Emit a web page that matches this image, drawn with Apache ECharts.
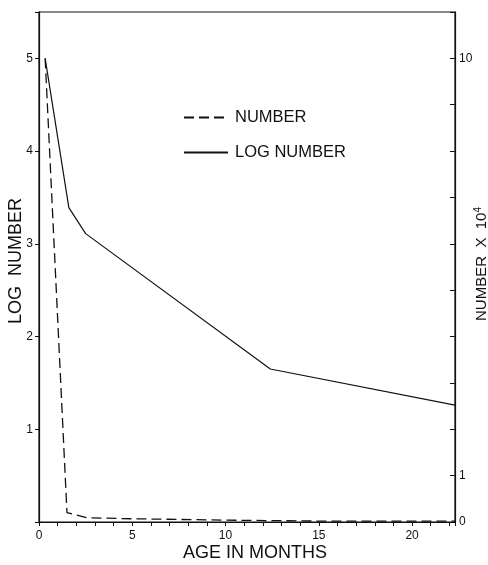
<!DOCTYPE html>
<html>
<head>
<meta charset="utf-8">
<script src="https://cdn.jsdelivr.net/npm/echarts@6/dist/echarts.min.js"></script>
<style>
html,body{margin:0;padding:0;background:#fff;}
#c{width:488px;height:565px;}
</style>
</head>
<body>
<div id="c"></div>
<script>
// Data
var logMonths = [0.33, 1.6, 2.5, 12.4, 22.3];
var logNumber = [5.0, 3.39, 3.11, 1.65, 1.26];
var numMonths = [0.33, 1.5, 2.6, 5, 10, 15, 22.3];
var numberX1e4 = [10, 0.2, 0.09, 0.07, 0.04, 0.02, 0.02];
var xTickLabels = [0, 5, 10, 15, 20];
var leftTickLabels = [1, 2, 3, 4, 5];
var rightTickLabels = [0, 1, 10];

var FONT = 'Liberation Sans';
var chart = echarts.init(document.getElementById('c'), null, {renderer: 'canvas'});
function pairs(xs, ys) { return xs.map(function (x, i) { return [x, ys[i]]; }); }

chart.setOption({
  backgroundColor: '#fff',
  animation: false,
  textStyle: {fontFamily: FONT, color: '#111'},
  grid: {left: 39, right: 33, top: 12, bottom: 43, containLabel: false, outerBoundsMode: 'none', show: true, borderColor: '#111', borderWidth: 1.2, backgroundColor: 'transparent'},
  legend: {
    orient: 'vertical', left: 178, top: 104, itemWidth: 44, itemHeight: 10, itemGap: 18,
    itemStyle: {opacity: 0, borderWidth: 0},
    textStyle: {fontFamily: FONT, fontSize: 16.5, color: '#111', padding: [0, 0, 0, 2]},
    data: [{name: 'NUMBER'}, {name: 'LOG NUMBER'}]
  },
  xAxis: {
    type: 'value', min: 0, max: 22.3, interval: 1,
    name: 'AGE IN MONTHS', nameLocation: 'middle', nameGap: 22, nameMoveOverlap: false,
    nameTextStyle: {fontFamily: FONT, fontSize: 18, color: '#111', padding: [0, 0, 0, 16]},
    axisLine: {show: true, lineStyle: {color: '#111', width: 1.2}},
    axisTick: {show: true, inside: false, length: 4, lineStyle: {color: '#111'}},
    splitLine: {show: false},
    axisLabel: {
      fontFamily: FONT, fontSize: 12, color: '#111', margin: 8,
      formatter: function (v) { return xTickLabels.indexOf(v) >= 0 ? String(v) : ''; }
    }
  },
  yAxis: [{
    type: 'value', min: 0, max: 5.5, interval: 1, position: 'left',
    name: 'LOG  NUMBER', nameLocation: 'middle', nameRotate: 90, nameGap: 14, nameMoveOverlap: false,
    nameTextStyle: {fontFamily: FONT, fontSize: 18, color: '#111', padding: [0, 0, 0, 12]},
    axisLine: {show: true, lineStyle: {color: '#111', width: 1.2}},
    axisTick: {show: true, inside: false, length: 4, lineStyle: {color: '#111'}},
    splitLine: {show: false},
    axisLabel: {
      fontFamily: FONT, fontSize: 12, color: '#111', margin: 6,
      formatter: function (v) { return leftTickLabels.indexOf(v) >= 0 ? String(v) : ''; }
    }
  }, {
    type: 'value', min: 0, max: 11, interval: 1, position: 'right',
    name: '{a|NUMBER  X  10}{s|4}', nameLocation: 'middle', nameRotate: 90, nameGap: 18, nameMoveOverlap: false,
    nameTextStyle: {
      fontFamily: FONT, color: '#111', padding: [0, 0, 0, 6],
      rich: {a: {fontFamily: FONT, fontSize: 15, color: '#111'}, s: {fontFamily: FONT, fontSize: 10, color: '#111', verticalAlign: 'top', padding: [0, 0, 8, 0]}}
    },
    axisLine: {show: true, lineStyle: {color: '#111', width: 1.2}},
    axisTick: {show: true, inside: true, length: 5, lineStyle: {color: '#111'}},
    splitLine: {show: false},
    axisLabel: {
      fontFamily: FONT, fontSize: 12, color: '#111', margin: 4,
      formatter: function (v) { return rightTickLabels.indexOf(v) >= 0 ? String(v) : ''; }
    }
  }],
  series: [{
    name: 'NUMBER', type: 'line', yAxisIndex: 1, showSymbol: false, symbol: 'none',
    data: pairs(numMonths, numberX1e4),
    lineStyle: {color: '#111', width: 1.3, type: [10, 5]},
    itemStyle: {color: '#111'}
  }, {
    name: 'LOG NUMBER', type: 'line', yAxisIndex: 0, showSymbol: false, symbol: 'none',
    data: pairs(logMonths, logNumber),
    lineStyle: {color: '#111', width: 1.2},
    itemStyle: {color: '#111'}
  }]
});
</script>
</body>
</html>
